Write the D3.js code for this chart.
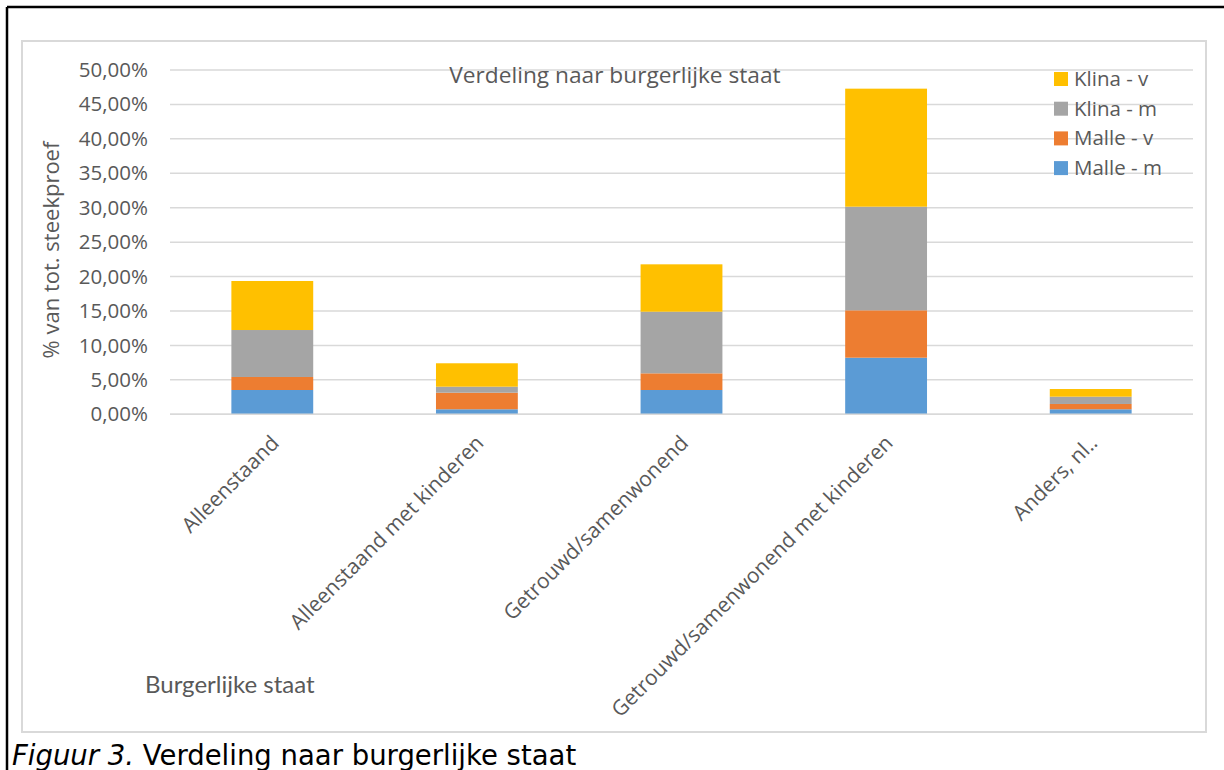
<!DOCTYPE html>
<html>
<head>
<meta charset="utf-8">
<script src="https://cdn.jsdelivr.net/npm/d3@7"></script>
<style>
  html, body { margin: 0; padding: 0; background: #fff; }
  svg { display: block; }
</style>
</head>
<body>
<svg id="chart" width="1224" height="770"></svg>
<script>
// Categories (burgerlijke staat)
const categories = [
  "Alleenstaand",
  "Alleenstaand met kinderen",
  "Getrouwd/samenwonend",
  "Getrouwd/samenwonend met kinderen",
  "Anders, nl.."
];

// Series, stacked bottom to top (% van totale steekproef)
const seriesNames = ["Malle - m", "Malle - v", "Klina - m", "Klina - v"];
const malleM = [3.53, 0.73, 3.53, 8.22, 0.73];
const malleV = [1.89, 2.41, 2.42, 6.88, 0.77];
const klinaM = [6.82, 0.87, 8.95, 15.05, 1.06];
const klinaV = [7.12, 3.40, 6.88, 17.14, 1.11];

const yTicks = [0, 5, 10, 15, 20, 25, 30, 35, 40, 45, 50];
const colors = ["#5B9BD5", "#ED7D31", "#A5A5A5", "#FFC000"];

const seriesValues = [malleM, malleV, klinaM, klinaV];
const table = categories.map((c, i) => {
  const row = { cat: c };
  seriesNames.forEach((s, k) => { row[s] = seriesValues[k][i]; });
  return row;
});

const svg = d3.select("#chart");
const textColor = "#595959";
const uiFont = "'Open Sans', 'Noto Sans', sans-serif";

// outer frame (black) and chart area border (light grey)
svg.append("line").attr("x1", 7).attr("x2", 1224).attr("y1", 7).attr("y2", 7)
  .attr("stroke", "#000").attr("stroke-width", 2.5);
svg.append("line").attr("x1", 7).attr("x2", 7).attr("y1", 7).attr("y2", 770)
  .attr("stroke", "#000").attr("stroke-width", 2.5);
svg.append("rect").attr("x", 22).attr("y", 41).attr("width", 1184).attr("height", 691)
  .attr("fill", "#fff").attr("stroke", "#D9D9D9").attr("stroke-width", 2);

const plot = { left: 170, right: 1193, top: 70, bottom: 414.3 };

const x = d3.scaleBand().domain(categories).range([plot.left, plot.right]).paddingInner(0.6).paddingOuter(0.3);
const y = d3.scaleLinear().domain([0, 50]).range([plot.bottom, plot.top]);

// gridlines
svg.append("g").selectAll("line").data(yTicks).join("line")
  .attr("x1", plot.left).attr("x2", plot.right)
  .attr("y1", d => y(d)).attr("y2", d => y(d))
  .attr("stroke", "#D9D9D9").attr("stroke-width", 1.5);

// y axis labels
const yAxis = d3.axisLeft(y).tickValues(yTicks).tickSize(0).tickPadding(0)
  .tickFormat(d => d3.format(".2f")(d).replace(".", ",") + "%");
const yG = svg.append("g").attr("transform", `translate(${plot.left - 22},0)`).call(yAxis);
yG.select(".domain").remove();
yG.selectAll("text").attr("fill", textColor).attr("font-family", uiFont).attr("font-size", 20.5);

// stacked bars
const stack = d3.stack().keys(seriesNames);
const layers = stack(table);
svg.append("g").selectAll("g").data(layers).join("g")
  .attr("fill", (d, i) => colors[i])
  .selectAll("rect").data(d => d).join("rect")
  .attr("x", d => x(d.data.cat))
  .attr("width", x.bandwidth())
  .attr("y", d => y(d[1]))
  .attr("height", d => y(d[0]) - y(d[1]));

// x axis line
svg.append("line").attr("x1", plot.left).attr("x2", plot.right)
  .attr("y1", plot.bottom).attr("y2", plot.bottom)
  .attr("stroke", "#D9D9D9").attr("stroke-width", 1.5);

// x axis labels, rotated -45°
const xAxis = d3.axisBottom(x).tickSize(0).tickPadding(0);
const xG = svg.append("g").attr("transform", `translate(0,${plot.bottom})`).call(xAxis);
xG.select(".domain").remove();
xG.selectAll("text")
  .attr("fill", textColor).attr("font-family", uiFont).attr("font-size", 21)
  .attr("text-anchor", "end")
  .attr("dy", null).attr("y", null)
  .attr("transform", "translate(8,30) rotate(-45)");

// chart title
svg.append("text").attr("x", 615).attr("y", 83).attr("text-anchor", "middle")
  .attr("fill", textColor).attr("font-family", uiFont).attr("font-size", 22.7)
  .text("Verdeling naar burgerlijke staat");

// y axis title
svg.append("text").attr("transform", "translate(59,250) rotate(-90)")
  .attr("text-anchor", "middle").attr("fill", textColor)
  .attr("font-family", uiFont).attr("font-size", 22)
  .text("% van tot. steekproef");

// x axis title
svg.append("text").attr("x", 145).attr("y", 693)
  .attr("fill", textColor).attr("font-family", "Lato, sans-serif").attr("font-size", 24)
  .text("Burgerlijke staat");

// legend (top to bottom: Klina - v ... Malle - m)
const legendOrder = seriesNames.map((s, i) => ({ name: s, color: colors[i] })).reverse();
const lg = svg.append("g").selectAll("g").data(legendOrder).join("g")
  .attr("transform", (d, i) => `translate(1054,${79 + i * 29.7})`);
lg.append("rect").attr("x", 0).attr("y", -7).attr("width", 14).attr("height", 14)
  .attr("fill", d => d.color);
lg.append("text").attr("x", 20).attr("y", 7)
  .attr("fill", textColor).attr("font-family", uiFont).attr("font-size", 20.5)
  .text(d => d.name);

// caption below the chart
const cap = svg.append("text").attr("x", 12).attr("y", 765)
  .attr("fill", "#000").attr("font-family", "'DejaVu Sans', Verdana, sans-serif").attr("font-size", 27.5);
cap.append("tspan").attr("font-style", "italic").text("Figuur 3.");
cap.append("tspan").text(" Verdeling naar burgerlijke staat");
</script>
</body>
</html>
